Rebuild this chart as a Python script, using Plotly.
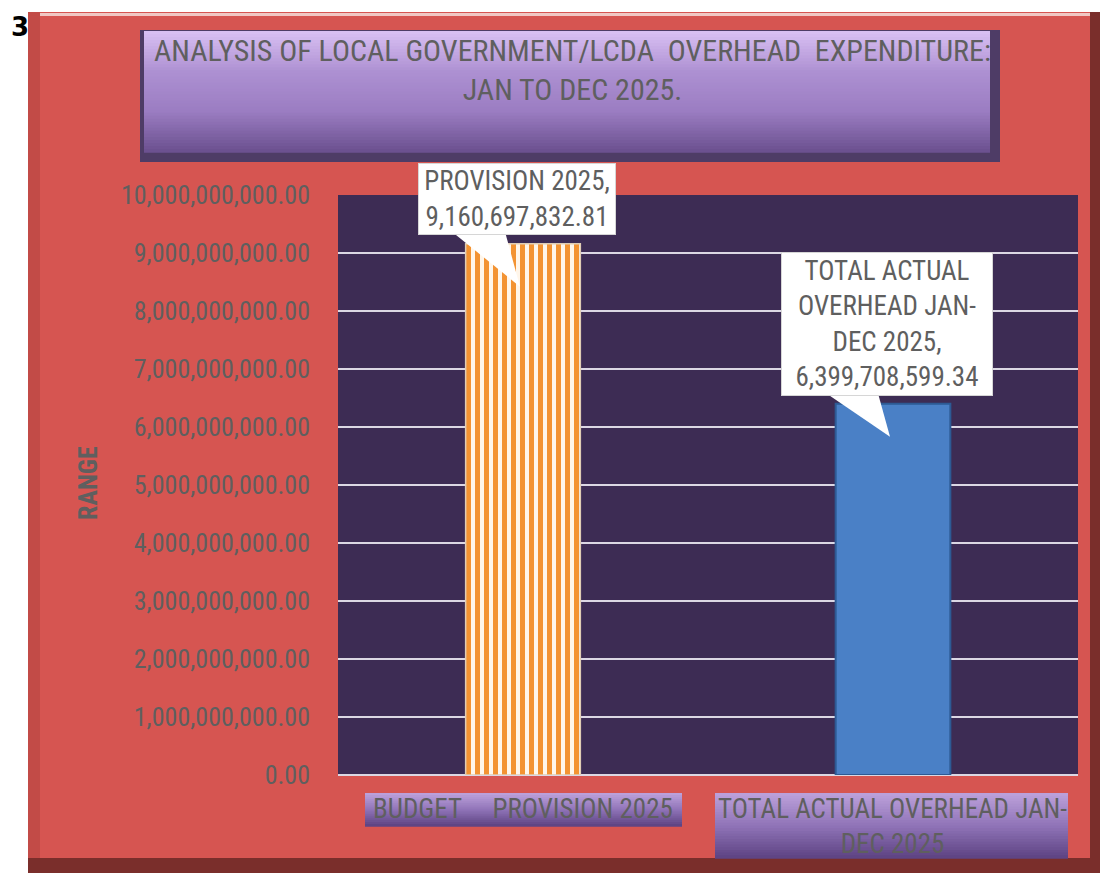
import plotly.graph_objects as go

# data
categories = ["BUDGET     PROVISION 2025", "TOTAL ACTUAL OVERHEAD JAN-<br>DEC 2025"]
values = [9160697832.81, 6399708599.34]
callout_text = ["PROVISION 2025,<br>9,160,697,832.81",
                "TOTAL ACTUAL<br>OVERHEAD JAN-<br>DEC 2025,<br>6,399,708,599.34"]
tick_vals = [i * 1e9 for i in range(11)]

W, H = 1113, 873
OFF = 8  # page margin around the plot div
L, R, T, B = 338, 1078, 195, 775
FONT = "Roboto Condensed, DejaVu Sans Condensed, Liberation Sans Narrow, sans-serif"
GREY = "#5f5f5f"


def px(x):
    return (x - L) / (R - L)


def py(y):
    return (B - y) / (B - T)


def rect(x0, y0, x1, y1, color, line=None):
    return dict(type="rect", xref="paper", yref="paper", layer="below",
                x0=px(x0), x1=px(x1), y0=py(y1), y1=py(y0),
                fillcolor=color, line=line or dict(width=0))


def mix(c1, c2, t):
    a = [int(c1[i:i + 2], 16) for i in (1, 3, 5)]
    b = [int(c2[i:i + 2], 16) for i in (1, 3, 5)]
    return "#%02x%02x%02x" % tuple(round(a[k] + (b[k] - a[k]) * t) for k in range(3))


def gradient_box(x0, y0, x1, y1, stops, n=40):
    out = []
    h = (y1 - y0) / n
    for i in range(n):
        t = i / (n - 1) * (len(stops) - 1)
        k = min(int(t), len(stops) - 2)
        out.append(rect(x0, y0 + i * h, x1, y0 + (i + 1) * h + 0.8, mix(stops[k], stops[k + 1], t - k)))
    return out


shapes = []
# outer chart area with bevel
shapes.append(rect(28, 12, 1100, 873, "#7a2e2b"))
shapes.append(rect(28, 12, 1090, 858, "#d65551"))
shapes.append(rect(28, 12, 40, 858, "#c24b47"))
shapes.append(rect(40, 13, 1090, 16, "#f0c8c4"))
# title box
shapes.append(rect(140, 30, 1000, 162, "#4e3c66"))
shapes += gradient_box(144, 31, 990, 152, ["#d8bff2", "#ad90d2", "#9b7dc2", "#6c5190"])
# plot area
shapes.append(rect(L, T, R, B, "#3d2c54"))
# category label boxes
shapes += gradient_box(365, 793, 682, 826, ["#bba0da", "#9074b8", "#5f4584"], n=16)
shapes += gradient_box(715, 793, 1068, 858, ["#bba0da", "#9074b8", "#5f4584"], n=24)

# callout wedges, pixel offsets relative to the bar top
wedges = ["M -71,12 L -18,12 L -3,-43 Z", "M -72,14 L -16,14 L -3,-33 Z"]
for cat, val, path in zip(categories, values, wedges):
    shapes.append(dict(type="path", xref="x", yref="y", xsizemode="pixel", ysizemode="pixel",
                       xanchor=cat, yanchor=val, path=path, layer="above",
                       fillcolor="white", line=dict(width=0)))

fig = go.Figure()
fig.add_trace(go.Bar(
    x=categories[:1], y=values[:1], width=0.31,
    marker=dict(line=dict(color="#e0cdb4", width=1.5),
                pattern=dict(shape="|", fgcolor="#f39332", bgcolor="#fff6ea",
                             fgopacity=1, size=9, solidity=0.55)),
    showlegend=False,
))
fig.add_trace(go.Bar(
    x=categories[1:], y=values[1:], width=0.31,
    marker=dict(color="#4a80c6", line=dict(color="#2d5a94", width=2)),
    showlegend=False,
))

annotations = [
    dict(text="<b>3</b>", x=px(9), y=py(27), xref="paper", yref="paper", xanchor="left",
         yanchor="middle", showarrow=False, font=dict(size=26, color="black", family="DejaVu Sans")),
    dict(text="ANALYSIS OF LOCAL GOVERNMENT/LCDA  OVERHEAD  EXPENDITURE:<br>JAN TO DEC 2025.",
         x=px(572), y=py(70), xref="paper", yref="paper", xanchor="center", yanchor="middle",
         showarrow=False, font=dict(size=30, color=GREY, family=FONT), align="center"),
    dict(text="<b>RANGE</b>", x=px(88), y=py(483), xref="paper", yref="paper",
         xanchor="center", yanchor="middle",
         textangle=-90, showarrow=False, font=dict(size=26, color=GREY, family=FONT)),
    dict(text=categories[0], x=px(523), y=py(809), xref="paper", yref="paper",
         xanchor="center", yanchor="middle",
         showarrow=False, font=dict(size=27, color=GREY, family=FONT)),
    dict(text=categories[1], x=px(892), y=py(826), xref="paper", yref="paper",
         xanchor="center", yanchor="middle", align="center",
         showarrow=False, font=dict(size=27, color=GREY, family=FONT)),
]

box = [dict(yshift=45, w=192, h=66), dict(yshift=80, w=206, h=138)]
for cat, val, txt, b in zip(categories, values, callout_text, box):
    annotations.append(dict(
        x=cat, y=val, text=txt, xref="x", yref="y", showarrow=False,
        xanchor="center", yanchor="middle", yshift=b["yshift"], xshift=-6,
        bgcolor="white", bordercolor="#d6d6d6", borderwidth=1, borderpad=2,
        width=b["w"], height=b["h"], align="center",
        font=dict(size=27, color=GREY, family=FONT),
    ))

fig.update_layout(
    width=W - OFF, height=H - OFF,
    margin=dict(l=L - OFF, r=W - R, t=T - OFF, b=H - B),
    paper_bgcolor="white",
    plot_bgcolor="rgba(0,0,0,0)",
    shapes=shapes,
    annotations=annotations,
    font=dict(family=FONT, color=GREY),
    xaxis=dict(showticklabels=False, showgrid=False, zeroline=False, showline=False),
    yaxis=dict(
        range=[0, 1e10], tickvals=tick_vals, tickformat=",.2f",
        showgrid=True, gridcolor="#dcd8e4", gridwidth=1.5,
        zeroline=True, zerolinecolor="#dcd8e4", zerolinewidth=1.5,
        ticks="", ticklabelstandoff=27,
        tickfont=dict(size=26, color=GREY, family=FONT),
    ),
)

fig.write_html("out.html")
